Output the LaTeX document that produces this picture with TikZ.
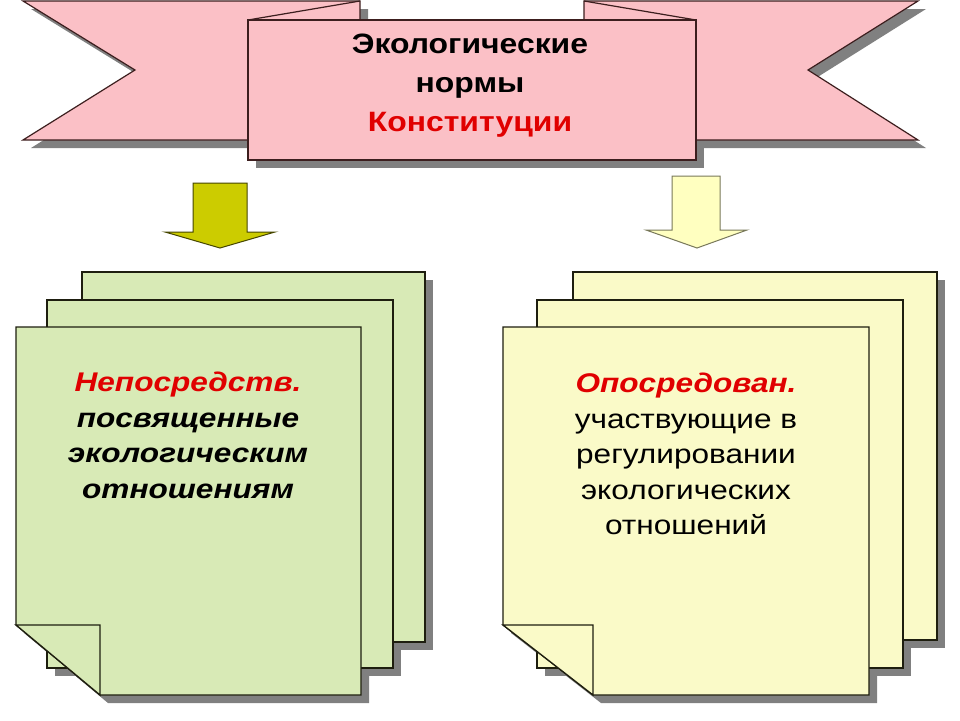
\documentclass[tikz,border=0pt]{standalone}
\usepackage{fontspec}
\setmainfont{Liberation Sans}
\newfontfamily\titlefont[FakeStretch=1.14]{Liberation Sans}
\newfontfamily\pagefont[FakeStretch=1.17]{Liberation Sans}
\definecolor{shadowgrey}{RGB}{128,128,128}
\definecolor{pinkfill}{RGB}{251,192,198}
\definecolor{edgedark}{RGB}{60,30,30}
\definecolor{greenfill}{RGB}{216,234,182}
\definecolor{yellowfill}{RGB}{250,250,200}
\definecolor{pagedark}{RGB}{30,30,15}
\definecolor{arrowolive}{RGB}{204,204,0}
\definecolor{arrowpale}{RGB}{255,255,192}
\definecolor{titlered}{RGB}{224,0,0}
\begin{document}
\begin{tikzpicture}[x=1pt,y=-1pt,
  shadowfill/.style={fill=shadowgrey,draw=none},
  ribbon/.style={fill=pinkfill,draw=edgedark,line width=1.2pt,line join=miter},
  greenpage/.style={fill=greenfill,draw=pagedark,line width=1.3pt},
  yellowpage/.style={fill=yellowfill,draw=pagedark,line width=1.3pt},
  arrowdark/.style={fill=arrowolive,draw={rgb,255:red,70;green,70;blue,0},line width=1pt},
  arrowlight/.style={fill=arrowpale,draw={rgb,255:red,120;green,120;blue,90},line width=1pt},
  toptext/.style={align=center,inner sep=0pt,anchor=north,font=\titlefont\fontsize{28}{39}\selectfont\bfseries},
  pagetext/.style={align=center,inner sep=0pt,anchor=north}
]
\useasboundingbox (0,0) rectangle (960,720);
\fill[white] (0,0) rectangle (960,720);

% ---- banner shadows (group shadow)
\begin{scope}[shift={(8,8)}]
  \fill[shadowfill] (23,1) -- (360,1) -- (360,140) -- (23,140) -- (135,70) -- cycle;
  \fill[shadowfill] (584,1) -- (918,1) -- (808,70) -- (918,140) -- (584,140) -- cycle;
  \fill[shadowfill] (248,20) rectangle (696,160);
\end{scope}

% ---- ribbon ends
\draw[ribbon] (23,1) -- (360,1) -- (360,140) -- (23,140) -- (135,70) -- cycle;
\draw[ribbon] (584,1) -- (918,1) -- (808,70) -- (918,140) -- (584,140) -- cycle;
\draw[edgedark,line width=1.2pt] (248,20) -- (360,1);
\draw[edgedark,line width=1.2pt] (584,1) -- (696,20);

% ---- main banner box
\draw[ribbon] (248,20) rectangle (696,160);
\node[toptext] (title) at (470,34) {Экологические\\нормы\\\textcolor{titlered}{Конституции}};

% ---- arrows
\draw[arrowdark] (193,183) -- (247,183) -- (247,232) -- (275,232) -- (220,248) -- (165,232) -- (193,232) -- cycle;
\draw[arrowlight] (672,176) -- (720,176) -- (720,230) -- (747,230) -- (697,248) -- (646,230) -- (672,230) -- cycle;

% ---- page shadows (group shadow)
\begin{scope}[shift={(8,8)}]
  \fill[shadowfill] (82,272) rectangle (425,642);
  \fill[shadowfill] (47,300) rectangle (393,668);
  \fill[shadowfill] (16,327) -- (361,327) -- (361,695) -- (100,695) -- (16,625) -- cycle;
  \fill[shadowfill] (573,272) rectangle (937,640);
  \fill[shadowfill] (537,300) rectangle (903,668);
  \fill[shadowfill] (503,327) -- (869,327) -- (869,695) -- (593,695) -- (503,625) -- cycle;
\end{scope}

% ---- left stack
\draw[greenpage] (82,272) rectangle (425,642);
\draw[greenpage] (47,300) rectangle (393,668);
\draw[greenpage] (16,327) -- (361,327) -- (361,695) -- (100,695) -- (16,625) -- cycle;
\draw[greenpage] (16,625) -- (100,625) -- (100,695) -- cycle;
\node[pagetext,font=\pagefont\fontsize{27}{35.5}\selectfont\bfseries\itshape] (lefttext) at (188,372)
  {\textcolor{titlered}{Непосредств.}\\посвященные\\экологическим\\отношениям};

% ---- right stack
\draw[yellowpage] (573,272) rectangle (937,640);
\draw[yellowpage] (537,300) rectangle (903,668);
\draw[yellowpage] (503,327) -- (869,327) -- (869,695) -- (593,695) -- (503,625) -- cycle;
\draw[yellowpage] (503,625) -- (593,625) -- (593,695) -- cycle;
\node[pagetext,font=\pagefont\fontsize{27}{35.5}\selectfont] (righttext) at (686,373)
  {\textcolor{titlered}{\bfseries\itshape Опосредован.}\\участвующие в\\регулировании\\экологических\\отношений};
\end{tikzpicture}
\end{document}
